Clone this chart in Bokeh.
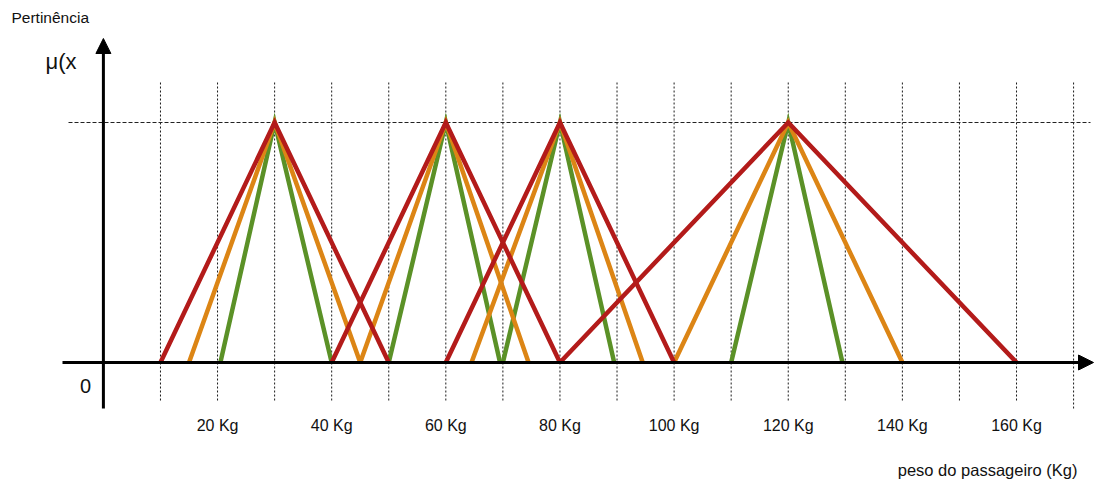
from bokeh.plotting import figure
from bokeh.models import Arrow, NormalHead
from bokeh.core.properties import value
from bokeh.embed import file_html
from bokeh.resources import INLINE

# Triangular membership functions (start, peak, end) in Kg
red_tri = [(10, 30, 50), (40, 60, 80), (60, 80, 100), (80, 120, 160)]
orange_tri = [(15, 30, 45), (45, 60, 74.5), (64.5, 80, 94.5), (100, 120, 140)]
green_tri = [(20.5, 30, 40), (50, 60, 69.5), (70, 80, 89.5), (110, 120, 129.5)]

grid_x = [10, 20, 30, 40, 50, 60, 70, 80, 90, 100, 110, 120, 130, 140, 150, 160, 170]
tick_values = [20, 40, 60, 80, 100, 120, 140, 160]
tick_labels = ["20 Kg", "40 Kg", "60 Kg", "80 Kg", "100 Kg", "120 Kg", "140 Kg", "160 Kg"]

FONT = value("Liberation Sans")

W, H = 1094, 481
X0PX, KPX = 102.9, 5.707      # pixel of 0 Kg, pixels per Kg
Y0PX, UPX = 362.0, 240.0      # pixel of membership 0, pixels per unit


def dx(px):
    return (px - X0PX) / KPX


def dy(py):
    return (Y0PX - py) / UPX


p = figure(width=W, height=H, x_range=(dx(0), dx(W)), y_range=(dy(H), dy(0)),
           output_backend="svg", toolbar_location=None, min_border=0,
           x_axis_type=None, y_axis_type=None)
p.outline_line_color = None
p.xgrid.visible = False
p.ygrid.visible = False

# dotted vertical grid lines
p.segment(x0=grid_x, y0=[dy(400)] * (len(grid_x) - 1) + [dy(408)], x1=grid_x,
          y1=[dy(80)] * len(grid_x), line_color="#1a1a1a", line_width=1, line_dash="2 2")
# dashed horizontal line at membership 1
p.segment(x0=[dx(68)], y0=[1.0], x1=[dx(1090)], y1=[1.0], line_color="#222222",
          line_width=1.2, line_dash="4 2")

# axes
p.add_layout(Arrow(end=NormalHead(size=15, fill_color="black", line_color="black", line_width=1),
                   x_start=0, y_start=dy(408), x_end=0, y_end=dy(38),
                   line_width=3, line_color="black"))
p.add_layout(Arrow(end=NormalHead(size=15, fill_color="black", line_color="black", line_width=1),
                   x_start=dx(62), y_start=0, x_end=dx(1093), y_end=0,
                   line_width=3, line_color="black"))


def tri_lines(tris):
    xs = [[a, b, c] for a, b, c in tris]
    ys = [[0, 1, 0] for _ in tris]
    return xs, ys


for tris, color in [(green_tri, "#5b9127"), (orange_tri, "#dc8515"), (red_tri, "#b31b1a")]:
    xs, ys = tri_lines(tris)
    p.multi_line(xs=xs, ys=ys, line_color=color, line_width=4.5, line_join="miter")

# tick labels
p.text(x=tick_values, y=[dy(425)] * len(tick_values), text=tick_labels,
       text_font=FONT, text_font_size="16px", text_align="center",
       text_baseline="middle", text_color="#111111")

p.text(x=[dx(1077)], y=[dy(469)], text=["peso do passageiro (Kg)"],
       text_font=FONT, text_font_size="16.5px", text_align="right",
       text_baseline="middle", text_color="#111111")

p.text(x=[dx(11)], y=[dy(17)], text=["Pertinência"],
       text_font=FONT, text_font_size="15.5px", text_align="left",
       text_baseline="middle", text_color="#111111")

p.text(x=[dx(45)], y=[dy(61)], text=["μ(x"],
       text_font=FONT, text_font_size="22px", text_align="left",
       text_baseline="middle", text_color="#111111")

p.text(x=[dx(85)], y=[dy(385)], text=["0"],
       text_font=FONT, text_font_size="20px", text_align="center",
       text_baseline="middle", text_color="#111111")

open("out.html", "w").write(file_html(p, INLINE))
